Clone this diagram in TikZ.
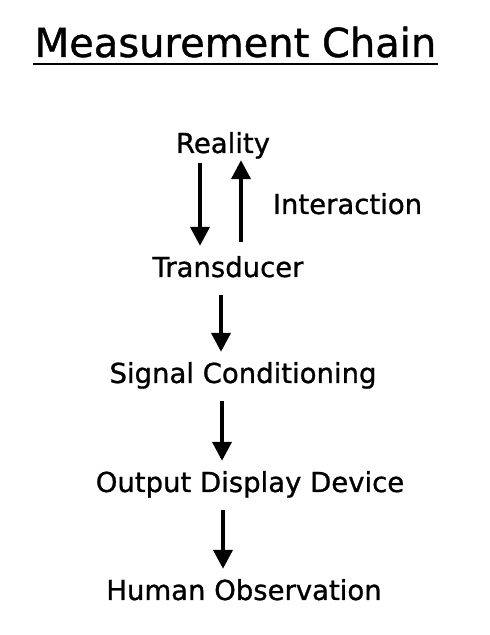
\documentclass[tikz,border=0pt]{standalone}
\usepackage{fontspec}
\setmainfont{DejaVu Sans}
\newfontfamily\chainfont{DejaVu Sans}[FakeBold=1]
\usetikzlibrary{arrows.meta,positioning}
\tikzset{
  mchain/.style={>={Triangle[width=19pt,length=19pt]}, x=1pt, y=1pt,
                 every node/.style={inner sep=0pt, anchor=base}},
  stage/.style={font=\chainfont\fontsize{27.5}{30}\selectfont, text height=21pt, text depth=6pt},
  heading/.style={font=\chainfont\fontsize{40}{44}\selectfont},
  flow/.style={->, line width=4pt, shorten <=12pt, shorten >=10pt}
}

\begin{document}
\begin{tikzpicture}[mchain]
\useasboundingbox (0,0) rectangle (490,635);
\node[heading] (title) at (235.5,578) {Measurement Chain};
\draw[line width=2.5pt] (33,571) -- (438,571);
\node[stage] (real) at (223,482) {Reality};
\node[stage] (inter) at (347.5,421) {Interaction};
\node[stage] (trans) at (228,358) {Transducer};
\node[stage] (cond) at (243,252) {Signal Conditioning};
\node[stage] (out) at (250,143) {Output Display Device};
\node[stage] (hum) at (244,35) {Human Observation};
\draw[flow, shorten <=4pt] ([xshift=-23pt]real.south) -- ([xshift=-28pt]trans.north);
\draw[flow, shorten <=14pt, shorten >=1pt] ([xshift=13pt]trans.north) -- ([xshift=18pt]real.south);
\draw[flow] ([xshift=-7pt]trans.south) -- ([xshift=-22pt]cond.north);
\draw[flow] ([xshift=-21pt]cond.south) -- ([xshift=-28pt]out.north);
\draw[flow] ([xshift=-27pt]out.south) -- ([xshift=-21pt]hum.north);
\end{tikzpicture}
\end{document}
